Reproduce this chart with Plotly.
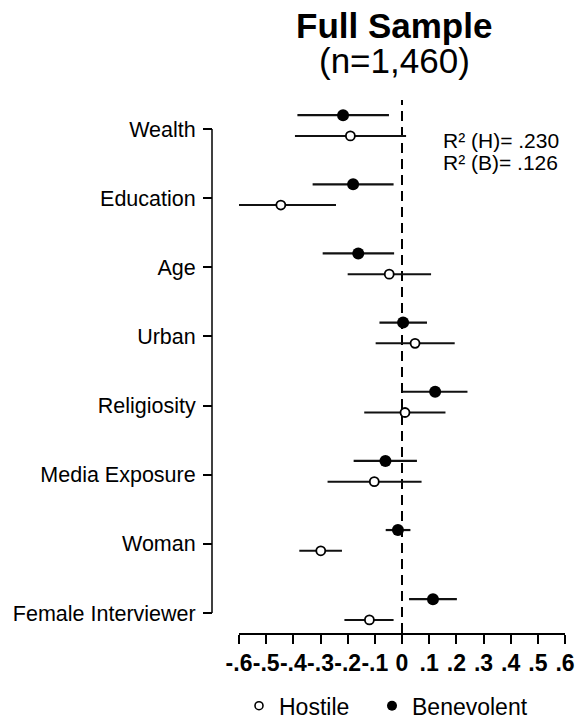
import plotly.graph_objects as go

# ---- data ----
categories = ["Wealth", "Education", "Age", "Urban", "Religiosity",
              "Media Exposure", "Woman", "Female Interviewer"]
hostile_est = [-0.190, -0.446, -0.047, 0.048, 0.011, -0.102, -0.299, -0.120]
hostile_lo = [-0.394, -0.647, -0.200, -0.097, -0.139, -0.274, -0.378, -0.212]
hostile_hi = [0.015, -0.243, 0.107, 0.194, 0.160, 0.072, -0.221, -0.031]
benev_est = [-0.217, -0.180, -0.161, 0.004, 0.122, -0.061, -0.015, 0.114]
benev_lo = [-0.385, -0.329, -0.292, -0.083, 0.002, -0.178, -0.060, 0.026]
benev_hi = [-0.048, -0.031, -0.029, 0.092, 0.241, 0.055, 0.031, 0.202]
x_ticks = [-0.6, -0.5, -0.4, -0.3, -0.2, -0.1, 0, 0.1, 0.2, 0.3, 0.4, 0.5, 0.6]
x_ticklabels = ["-.6", "-.5", "-.4", "-.3", "-.2", "-.1", "0", ".1", ".2", ".3", ".4", ".5", ".6"]
r2_texts = ["R\u00b2 (H)= .230", "R\u00b2 (B)= .126"]
title_text = "Full Sample"
subtitle_text = "(n=1,460)"

n = len(categories)
pos = [n - i for i in range(n)]  # Wealth at top
hos_y = [p - 0.1 for p in pos]
ben_y = [p + 0.2 for p in pos]

FONT = "Liberation Sans, Arial, sans-serif"

fig = go.Figure()

fig.add_trace(go.Scatter(
    x=hostile_est, y=hos_y, mode="markers", showlegend=False,
    error_x=dict(type="data", symmetric=False,
                 array=[h - e for h, e in zip(hostile_hi, hostile_est)],
                 arrayminus=[e - l for e, l in zip(hostile_est, hostile_lo)],
                 thickness=2, width=0, color="#111111"),
    marker=dict(symbol="circle", size=9, color="white",
                line=dict(color="black", width=1.8)),
))
fig.add_trace(go.Scatter(
    x=benev_est, y=ben_y, mode="markers", showlegend=False,
    error_x=dict(type="data", symmetric=False,
                 array=[h - e for h, e in zip(benev_hi, benev_est)],
                 arrayminus=[e - l for e, l in zip(benev_est, benev_lo)],
                 thickness=2.2, width=0, color="#111111"),
    marker=dict(symbol="circle", size=12, color="black",
                line=dict(color="black", width=0)),
))
# legend entries
fig.add_trace(go.Scatter(x=[None], y=[None], mode="markers", name="Hostile",
                         legend="legend",
                         marker=dict(symbol="circle", size=8, color="white",
                                     line=dict(color="black", width=1.6))))
fig.add_trace(go.Scatter(x=[None], y=[None], mode="markers", name="Benevolent",
                         legend="legend2",
                         marker=dict(symbol="circle", size=10, color="black")))

L, R, T, B = 203, 13, 100, 89
W, H = 578, 722
pw = W - L - R
ph = H - T - B
yaxis_pos = 9 / pw

legend_common = dict(orientation="h", xanchor="left", y=-0.1365, yanchor="middle",
                     font=dict(size=23, family=FONT, color="black"),
                     itemsizing="trace", bgcolor="rgba(0,0,0,0)")

fig.update_layout(
    width=W, height=H,
    margin=dict(l=L, r=R, t=T, b=B, autoexpand=False),
    paper_bgcolor="white", plot_bgcolor="white",
    font=dict(family=FONT, color="black"),
    xaxis=dict(domain=[36 / pw, 1], range=[-0.6, 0.6], tickmode="array",
               tickvals=x_ticks, ticktext=x_ticklabels, tickangle=0,
               ticks="outside", ticklen=9, tickwidth=1.5, tickcolor="black",
               showline=True, linewidth=1.5, linecolor="black",
               showgrid=False, zeroline=False,
               tickfont=dict(size=23, family=FONT, weight="bold", color="black")),
    yaxis=dict(range=[0.711, 8.419], tickmode="array", tickvals=pos,
               ticktext=categories, anchor="free", position=yaxis_pos,
               ticks="outside", ticklen=9, tickwidth=1.5, tickcolor="black",
               showline=False, showgrid=False, zeroline=False,
               ticklabelstandoff=3,
               tickfont=dict(size=21.5, family=FONT, color="black")),
    showlegend=True,
    legend=dict(x=(239 - L) / pw, **legend_common),
    legend2=dict(x=(372 - L) / pw, **legend_common),
)

# y axis line spanning first to last category
fig.add_shape(type="line", xref="paper", yref="y", x0=yaxis_pos, x1=yaxis_pos,
              y0=min(pos), y1=max(pos), line=dict(color="black", width=1.5))
# reference line at zero
fig.add_shape(type="line", xref="x", yref="paper", x0=0, x1=0, y0=0, y1=1,
              line=dict(color="black", width=2, dash="10px,6px"), layer="below")

for txt, yy in zip(r2_texts, [7.83, 7.51]):
    fig.add_annotation(x=0.145, y=yy, xref="x", yref="y", text=txt, showarrow=False,
                       xanchor="left", yanchor="middle",
                       font=dict(size=21, family=FONT, color="black"))

cx = (394 - L) / pw
fig.add_annotation(x=cx, y=(H - B - 25) / ph, xref="paper", yref="paper",
                   text="<b>" + title_text + "</b>", showarrow=False,
                   xanchor="center", yanchor="middle",
                   font=dict(size=35, family=FONT, color="black"))
fig.add_annotation(x=cx, y=(H - B - 60) / ph, xref="paper", yref="paper",
                   text=subtitle_text, showarrow=False,
                   xanchor="center", yanchor="middle",
                   font=dict(size=35, family=FONT, color="black"))

fig.write_html("out.html",
               config={"displayModeBar": False},
               post_script="document.body.style.margin='0';"
                           "document.body.style.overflow='hidden';")
